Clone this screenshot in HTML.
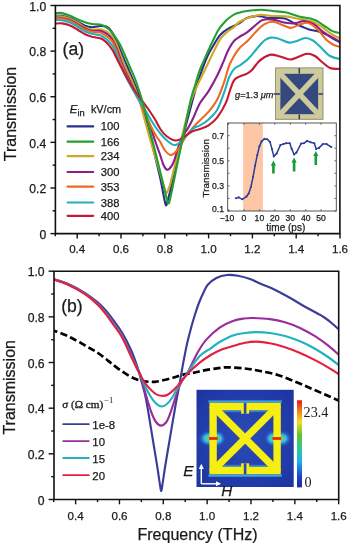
<!DOCTYPE html><html><head><meta charset="utf-8"><style>
html,body{margin:0;padding:0;background:#fff;width:350px;height:545px;overflow:hidden}
svg{display:block;filter:blur(0.3px)}
text{font-family:"Liberation Sans",sans-serif;fill:#1a1a1a;stroke:#1a1a1a;stroke-width:0.25px}
.ser{font-family:"Liberation Serif",serif;stroke:none}
</style></head><body>
<svg width="350" height="545" viewBox="0 0 350 545">
<defs>
<clipPath id="ca"><rect x="55.4" y="5.5" width="284.5" height="228.1"/></clipPath>
<clipPath id="cb"><rect x="54.0" y="271.2" width="284.7" height="228.3"/></clipPath>
<linearGradient id="jet" x1="0" y1="1" x2="0" y2="0"><stop offset="0" stop-color="#1c2f9a"/><stop offset="0.12" stop-color="#2040c8"/><stop offset="0.3" stop-color="#20b0f0"/><stop offset="0.45" stop-color="#30c890"/><stop offset="0.6" stop-color="#60c030"/><stop offset="0.75" stop-color="#f0e020"/><stop offset="0.88" stop-color="#f08020"/><stop offset="1" stop-color="#e01818"/></linearGradient>
<radialGradient id="glow"><stop offset="0" stop-color="#d0e840"/><stop offset="0.18" stop-color="#50d080"/><stop offset="0.42" stop-color="#38c0f0"/><stop offset="0.75" stop-color="#2a70d0" stop-opacity="0.5"/><stop offset="1" stop-color="#2a48b2" stop-opacity="0"/></radialGradient>
<radialGradient id="bgG" cx="0.5" cy="0.5" r="0.7"><stop offset="0" stop-color="#2a4cb8"/><stop offset="1" stop-color="#1d34a0"/></radialGradient>
</defs>
<g clip-path="url(#ca)" fill="none" stroke-width="2.1" stroke-linejoin="round" stroke-linecap="round">
<path d="M55.5,15.5 C56.6,15.6 59.6,15.4 62.0,15.8 C64.4,16.2 67.3,17.0 70.0,18.0 C72.7,19.0 75.5,20.7 78.0,22.0 C80.5,23.3 82.7,24.8 85.0,25.7 C87.3,26.6 89.5,27.1 92.0,27.2 C94.5,27.2 98.0,26.2 100.0,26.0 C102.0,25.8 102.8,26.0 104.0,26.2 C105.2,26.4 106.0,26.4 107.0,27.0 C108.0,27.6 109.0,28.3 110.0,29.5 C111.0,30.7 112.0,32.2 113.0,34.0 C114.0,35.8 115.0,37.8 116.0,40.0 C117.0,42.2 118.2,45.0 119.0,47.0 C119.8,49.0 119.7,48.8 121.0,52.0 C122.3,55.2 125.0,61.3 127.0,66.0 C129.0,70.7 131.0,75.2 133.0,80.0 C135.0,84.8 137.2,90.3 138.8,95.0 C140.4,99.7 141.2,103.5 142.5,108.0 C143.8,112.5 145.3,118.3 146.3,122.0 C147.3,125.7 147.3,125.3 148.5,130.0 C149.7,134.7 151.6,142.2 153.5,150.0 C155.4,157.8 158.2,168.8 160.0,177.0 C161.8,185.2 163.3,194.2 164.3,199.0 C165.3,203.8 165.4,205.3 166.0,205.5 C166.6,205.7 167.1,202.6 167.8,200.0 C168.6,197.4 169.1,195.5 170.5,190.0 C171.9,184.5 174.1,175.2 176.0,167.0 C177.9,158.8 179.7,150.5 182.0,141.0 C184.3,131.5 187.7,118.8 190.0,110.0 C192.3,101.2 194.0,94.7 196.0,88.0 C198.0,81.3 200.1,75.2 202.1,69.7 C204.1,64.2 206.1,59.1 208.0,55.0 C209.9,50.9 212.0,47.9 213.7,45.0 C215.4,42.1 216.5,39.9 218.0,37.8 C219.5,35.7 221.0,34.0 222.9,32.4 C224.8,30.8 227.7,29.0 229.7,27.9 C231.7,26.8 233.2,26.4 235.0,25.5 C236.8,24.6 238.3,23.8 240.3,22.5 C242.3,21.2 244.5,19.0 247.1,17.9 C249.7,16.8 253.2,16.3 255.7,16.1 C258.2,15.9 259.9,16.2 262.0,16.5 C264.1,16.8 265.7,17.8 268.0,18.0 C270.3,18.2 273.2,17.9 276.0,18.0 C278.8,18.1 282.2,17.7 285.0,18.5 C287.8,19.3 290.3,21.3 293.0,22.6 C295.7,23.9 298.3,25.1 301.0,26.2 C303.7,27.3 306.1,28.6 309.0,29.5 C311.9,30.4 315.7,30.5 318.6,31.4 C321.5,32.2 324.2,33.4 326.6,34.6 C329.0,35.8 330.8,37.2 333.0,38.5 C335.2,39.8 338.8,41.8 339.9,42.5" stroke="#2b2f8c"/>
<path d="M55.5,16.2 C56.6,16.3 59.6,16.2 62.0,16.6 C64.4,17.0 67.3,17.7 70.0,18.8 C72.7,19.9 75.5,21.6 78.0,23.0 C80.5,24.4 82.7,26.3 85.0,27.4 C87.3,28.5 89.5,29.2 92.0,29.5 C94.5,29.8 98.0,29.2 100.0,29.4 C102.0,29.6 102.7,30.0 104.0,30.5 C105.3,31.0 106.7,31.5 108.0,32.5 C109.3,33.5 110.7,34.8 112.0,36.5 C113.3,38.2 114.8,40.4 116.0,43.0 C117.2,45.6 118.0,48.2 119.5,52.0 C121.0,55.8 123.0,61.3 125.0,66.0 C127.0,70.7 129.4,75.2 131.5,80.0 C133.6,84.8 135.8,90.3 137.5,95.0 C139.2,99.7 140.2,103.5 141.5,108.0 C142.8,112.5 144.3,118.3 145.3,122.0 C146.3,125.7 146.2,125.3 147.5,130.0 C148.8,134.7 151.1,142.9 153.2,150.0 C155.3,157.1 158.2,166.2 160.0,172.5 C161.8,178.8 163.2,184.6 164.3,188.0 C165.4,191.4 165.7,193.0 166.4,193.2 C167.1,193.4 167.8,190.6 168.4,189.0 C169.1,187.4 169.4,187.2 170.3,183.8 C171.2,180.4 172.9,173.2 174.1,168.5 C175.3,163.8 176.2,159.9 177.3,155.6 C178.4,151.3 179.5,147.1 180.5,142.8 C181.5,138.5 181.7,137.1 183.5,130.0 C185.3,122.9 189.0,107.7 191.4,100.0 C193.8,92.3 195.7,89.0 198.0,84.0 C200.3,79.0 202.8,74.2 205.0,69.7 C207.2,65.2 209.0,61.1 211.0,57.0 C213.0,52.9 215.6,47.9 217.1,45.0 C218.6,42.1 218.5,41.5 220.0,39.5 C221.5,37.5 223.6,35.1 226.0,33.0 C228.4,30.9 232.0,28.6 234.3,26.7 C236.6,24.8 237.3,23.1 240.0,21.5 C242.7,19.9 247.1,18.1 250.6,17.0 C254.1,15.9 257.2,15.1 260.9,14.9 C264.6,14.7 268.9,15.8 272.9,16.0 C276.9,16.2 282.1,16.0 285.0,16.2 C287.9,16.4 287.3,16.5 290.0,17.0 C292.7,17.5 297.6,18.7 301.0,19.4 C304.4,20.1 307.4,19.9 310.6,21.0 C313.8,22.1 317.5,24.2 320.2,25.8 C322.9,27.4 324.5,29.1 326.6,30.6 C328.7,32.1 330.8,33.7 333.0,35.0 C335.2,36.3 338.8,37.7 339.9,38.2" stroke="#cfa825"/>
<path d="M55.5,17.5 C56.6,17.6 59.6,17.6 62.0,18.0 C64.4,18.4 67.3,18.9 70.0,20.0 C72.7,21.1 75.5,23.1 78.0,24.5 C80.5,25.9 82.7,27.4 85.0,28.5 C87.3,29.6 89.5,30.4 92.0,30.8 C94.5,31.2 98.0,30.6 100.0,30.9 C102.0,31.1 102.7,31.6 104.0,32.3 C105.3,32.9 106.7,33.7 108.0,34.8 C109.3,35.9 110.8,37.3 112.0,39.0 C113.2,40.7 114.0,42.8 115.0,45.0 C116.0,47.2 116.7,48.5 118.0,52.0 C119.3,55.5 121.1,61.3 123.0,66.0 C124.9,70.7 127.2,75.2 129.5,80.0 C131.8,84.8 134.2,90.3 136.5,95.0 C138.8,99.7 141.0,103.5 143.0,108.0 C145.0,112.5 147.1,118.3 148.5,122.0 C149.9,125.7 150.3,126.7 151.5,130.0 C152.7,133.3 154.1,137.9 155.5,142.0 C156.9,146.1 158.7,150.7 160.0,154.5 C161.3,158.3 162.3,162.4 163.5,165.0 C164.7,167.6 165.9,169.4 167.1,169.8 C168.3,170.2 169.3,169.0 170.5,167.5 C171.7,166.0 172.9,164.1 174.1,160.8 C175.3,157.6 176.8,151.5 177.9,148.0 C179.1,144.5 179.9,142.4 181.0,140.0 C182.1,137.6 183.2,135.7 184.5,133.5 C185.8,131.3 187.3,129.5 188.7,127.0 C190.1,124.5 191.1,122.5 193.0,118.5 C194.9,114.5 197.4,107.7 200.0,103.1 C202.6,98.5 205.8,95.7 208.6,91.1 C211.4,86.5 214.5,80.8 217.1,75.7 C219.7,70.6 222.1,64.6 224.0,60.3 C225.9,56.0 226.6,53.2 228.3,50.0 C230.0,46.8 232.1,43.2 234.0,41.0 C235.9,38.8 237.8,37.9 240.0,36.5 C242.2,35.1 244.4,34.3 247.0,32.4 C249.6,30.5 253.1,27.1 255.7,25.0 C258.3,22.9 259.7,20.9 262.6,20.0 C265.5,19.1 269.2,19.2 272.9,19.6 C276.6,20.0 281.4,22.0 285.0,22.6 C288.6,23.2 291.4,23.7 294.6,23.4 C297.8,23.1 301.0,20.9 304.2,21.0 C307.4,21.1 310.6,22.3 313.8,24.2 C317.0,26.1 320.4,30.0 323.4,32.2 C326.4,34.4 329.2,36.0 332.0,37.5 C334.8,39.0 338.6,40.8 339.9,41.5" stroke="#8c1f8e"/>
<path d="M55.5,18.0 C56.6,18.1 59.6,18.0 62.0,18.5 C64.4,19.0 67.3,19.6 70.0,20.8 C72.7,22.0 75.5,24.1 78.0,25.5 C80.5,26.9 82.7,28.5 85.0,29.5 C87.3,30.5 89.5,31.2 92.0,31.7 C94.5,32.2 98.0,32.0 100.0,32.5 C102.0,33.0 102.7,34.0 104.0,34.8 C105.3,35.6 106.7,36.1 108.0,37.2 C109.3,38.3 110.9,39.7 112.0,41.2 C113.1,42.7 113.7,44.2 114.5,46.0 C115.3,47.8 115.8,48.7 117.0,52.0 C118.2,55.3 120.1,61.3 122.0,66.0 C123.9,70.7 126.2,75.2 128.5,80.0 C130.8,84.8 133.6,90.3 136.0,95.0 C138.4,99.7 140.8,103.5 143.0,108.0 C145.2,112.5 147.4,118.3 149.0,122.0 C150.6,125.7 151.6,127.6 152.8,130.0 C154.1,132.4 155.3,134.6 156.5,136.5 C157.7,138.4 158.6,139.2 160.0,141.5 C161.4,143.8 163.3,148.2 165.0,150.5 C166.7,152.8 168.8,154.5 170.3,155.0 C171.8,155.5 172.7,154.5 174.0,153.5 C175.3,152.5 176.6,150.9 177.9,149.2 C179.2,147.4 180.5,145.4 182.0,143.0 C183.5,140.6 185.1,137.7 187.0,135.0 C188.9,132.3 191.1,129.5 193.3,127.1 C195.5,124.6 197.4,122.9 200.0,120.3 C202.6,117.7 205.8,115.1 208.6,111.7 C211.4,108.3 214.5,104.6 217.1,99.7 C219.7,94.8 222.0,88.2 224.0,82.6 C226.0,77.0 227.3,70.4 229.0,66.0 C230.7,61.6 232.2,59.1 234.0,56.0 C235.8,52.9 237.7,50.1 240.0,47.5 C242.3,44.9 245.4,43.1 248.0,40.5 C250.6,37.9 252.9,34.7 255.7,32.0 C258.4,29.3 261.6,25.9 264.5,24.2 C267.4,22.5 269.6,21.5 273.0,21.8 C276.4,22.1 281.9,25.0 285.0,26.0 C288.1,27.0 288.7,28.1 291.4,27.8 C294.1,27.5 298.4,24.8 301.0,24.0 C303.6,23.2 305.0,22.6 307.0,22.8 C309.0,23.1 311.1,24.2 313.0,25.5 C314.9,26.8 316.3,28.2 318.6,30.6 C320.9,33.0 324.2,37.7 326.6,40.0 C329.0,42.3 330.8,43.3 333.0,44.5 C335.2,45.7 338.8,46.6 339.9,47.0" stroke="#ec6a22"/>
<path d="M55.5,20.0 C56.6,20.1 59.6,19.9 62.0,20.3 C64.4,20.7 67.3,21.4 70.0,22.5 C72.7,23.6 75.5,25.5 78.0,27.0 C80.5,28.5 82.7,30.3 85.0,31.4 C87.3,32.5 89.5,33.1 92.0,33.8 C94.5,34.4 98.0,34.7 100.0,35.3 C102.0,35.9 102.7,36.8 104.0,37.6 C105.3,38.5 106.7,39.1 108.0,40.4 C109.3,41.7 110.8,43.3 112.0,45.2 C113.2,47.1 114.0,48.5 115.5,52.0 C117.0,55.5 119.0,61.3 121.0,66.0 C123.0,70.7 125.0,75.2 127.5,80.0 C130.0,84.8 133.2,90.3 136.0,95.0 C138.8,99.7 141.5,103.8 144.0,108.0 C146.5,112.2 148.9,116.6 151.0,120.0 C153.1,123.4 154.7,125.9 156.5,128.5 C158.3,131.1 160.2,133.4 162.0,135.5 C163.8,137.6 165.5,139.4 167.5,141.0 C169.5,142.6 172.3,144.6 174.1,145.0 C175.9,145.4 177.0,144.5 178.5,143.5 C180.0,142.5 181.4,140.6 183.0,139.0 C184.6,137.4 186.3,135.8 188.0,134.0 C189.7,132.2 191.3,129.7 193.3,128.3 C195.3,126.9 197.4,126.9 200.0,125.4 C202.6,123.9 205.8,122.0 208.6,119.4 C211.4,116.8 214.5,114.4 217.1,110.0 C219.7,105.6 222.0,98.3 224.0,92.9 C226.0,87.5 227.4,81.4 229.1,77.4 C230.8,73.4 232.3,71.0 234.3,68.9 C236.3,66.8 238.8,66.2 241.1,64.6 C243.4,62.9 245.7,61.3 248.0,59.0 C250.3,56.7 253.0,53.3 255.0,51.0 C257.0,48.7 258.3,46.8 260.0,45.0 C261.7,43.2 263.2,41.2 265.0,40.0 C266.8,38.8 268.8,37.9 271.0,37.6 C273.2,37.4 275.0,37.7 278.0,38.5 C281.0,39.3 285.8,42.2 289.0,42.6 C292.2,43.0 294.3,41.8 297.0,41.0 C299.7,40.2 302.3,38.1 305.0,38.0 C307.7,37.9 310.5,39.1 313.0,40.5 C315.5,41.9 317.2,43.9 320.0,46.5 C322.8,49.1 326.7,53.9 330.0,56.0 C333.3,58.1 338.2,58.5 339.9,59.0" stroke="#1fb0c0"/>
<path d="M55.5,23.5 C56.6,23.5 59.6,23.1 62.0,23.4 C64.4,23.7 67.3,24.4 70.0,25.5 C72.7,26.6 75.5,28.5 78.0,30.0 C80.5,31.5 82.7,33.2 85.0,34.3 C87.3,35.4 89.5,36.1 92.0,36.8 C94.5,37.4 98.0,37.6 100.0,38.2 C102.0,38.8 102.7,39.4 104.0,40.4 C105.3,41.4 106.8,42.7 108.0,44.0 C109.2,45.3 110.1,46.7 111.0,48.0 C111.9,49.3 112.2,49.3 113.6,52.0 C115.0,54.7 117.3,59.8 119.5,64.0 C121.7,68.2 124.2,73.0 126.5,77.0 C128.8,81.0 130.8,84.5 133.0,88.0 C135.2,91.5 137.6,94.7 140.0,98.0 C142.4,101.3 145.1,104.6 147.5,108.0 C149.9,111.4 152.2,114.8 154.5,118.5 C156.8,122.2 158.9,127.0 161.0,130.0 C163.1,133.0 164.8,134.8 167.0,136.5 C169.2,138.2 171.9,139.8 174.1,140.3 C176.3,140.8 178.0,140.3 180.0,139.5 C182.0,138.7 184.0,136.8 186.0,135.5 C188.0,134.2 189.7,132.6 192.0,131.5 C194.3,130.4 197.2,129.9 200.0,128.9 C202.8,127.9 205.8,127.3 208.6,125.4 C211.4,123.5 214.2,121.4 217.1,117.7 C219.9,114.0 223.4,108.1 225.7,103.1 C228.0,98.1 229.5,91.5 230.9,87.7 C232.3,83.9 232.9,81.8 234.3,80.0 C235.7,78.2 237.4,77.6 239.4,76.6 C241.4,75.6 244.3,75.0 246.3,74.0 C248.3,73.0 249.4,72.6 251.4,70.6 C253.4,68.6 256.2,64.2 258.3,62.0 C260.4,59.8 261.9,58.7 264.0,57.5 C266.1,56.3 268.3,54.8 271.0,54.6 C273.7,54.4 276.8,55.7 280.0,56.5 C283.2,57.3 287.0,59.4 290.0,59.5 C293.0,59.6 295.2,58.0 298.0,57.0 C300.8,56.0 304.2,53.9 307.0,53.7 C309.8,53.5 312.5,54.6 315.0,56.0 C317.5,57.4 319.5,60.0 322.0,62.0 C324.5,64.0 327.0,66.8 330.0,68.0 C333.0,69.2 338.2,68.8 339.9,69.0" stroke="#c41a32"/>
<path d="M55.5,13.1 C56.6,13.1 59.6,12.6 62.0,13.1 C64.4,13.6 67.3,14.7 70.0,15.8 C72.7,16.9 75.5,18.4 78.0,19.5 C80.5,20.6 82.7,21.6 85.0,22.3 C87.3,23.1 89.5,23.6 92.0,24.0 C94.5,24.4 98.0,24.2 100.0,24.5 C102.0,24.8 102.7,25.3 104.0,26.0 C105.3,26.7 106.7,27.4 108.0,28.5 C109.3,29.6 110.7,30.9 112.0,32.5 C113.3,34.1 114.7,36.0 116.0,38.0 C117.3,40.0 118.8,42.2 120.0,44.5 C121.2,46.8 121.9,48.4 123.5,52.0 C125.1,55.6 127.5,61.3 129.5,66.0 C131.5,70.7 133.7,75.2 135.5,80.0 C137.3,84.8 139.0,90.3 140.5,95.0 C142.0,99.7 143.1,103.5 144.3,108.0 C145.5,112.5 146.9,118.3 147.8,122.0 C148.7,125.7 148.6,125.3 149.8,130.0 C151.0,134.7 152.9,142.5 154.8,150.0 C156.7,157.5 159.1,167.2 161.0,175.0 C162.9,182.8 165.1,192.3 166.3,197.0 C167.5,201.7 167.6,203.0 168.3,203.2 C169.0,203.4 168.9,204.2 170.3,198.0 C171.7,191.8 174.6,177.3 176.9,166.0 C179.2,154.7 182.1,141.0 184.4,130.0 C186.7,119.0 188.9,107.5 190.7,100.0 C192.5,92.5 193.7,90.0 195.2,85.0 C196.7,80.0 198.2,74.3 199.9,69.7 C201.6,65.1 203.4,61.6 205.2,57.6 C207.0,53.6 209.0,48.9 210.6,45.5 C212.2,42.1 213.3,40.0 214.5,37.5 C215.7,35.0 216.6,32.8 218.0,30.5 C219.4,28.2 221.2,25.9 222.9,24.0 C224.6,22.1 226.1,20.4 228.0,18.8 C229.9,17.2 232.3,15.4 234.3,14.3 C236.3,13.2 237.9,13.0 240.0,12.4 C242.1,11.8 243.6,11.4 247.1,11.0 C250.6,10.6 256.6,9.8 260.9,9.8 C265.2,9.8 268.9,10.6 272.9,11.0 C276.9,11.4 281.6,11.6 285.0,12.2 C288.4,12.8 290.3,13.7 293.0,14.5 C295.7,15.3 298.1,16.3 301.0,17.0 C303.9,17.7 307.9,17.9 310.6,18.6 C313.3,19.3 314.3,19.5 317.0,21.0 C319.7,22.5 323.9,25.7 326.6,27.4 C329.3,29.1 330.8,30.5 333.0,31.4 C335.2,32.3 338.8,32.7 339.9,33.0" stroke="#22a030"/>
</g>
<g stroke="#111" fill="none">
<path d="M55.4,5.5 H339.9 V233.6 H55.4 Z" stroke-width="1.6"/>
<line x1="50.4" y1="233.60" x2="55.4" y2="233.60" stroke-width="1.4"/>
<line x1="52.6" y1="210.79" x2="55.4" y2="210.79" stroke-width="1.4"/>
<line x1="50.4" y1="187.98" x2="55.4" y2="187.98" stroke-width="1.4"/>
<line x1="52.6" y1="165.17" x2="55.4" y2="165.17" stroke-width="1.4"/>
<line x1="50.4" y1="142.36" x2="55.4" y2="142.36" stroke-width="1.4"/>
<line x1="52.6" y1="119.55" x2="55.4" y2="119.55" stroke-width="1.4"/>
<line x1="50.4" y1="96.74" x2="55.4" y2="96.74" stroke-width="1.4"/>
<line x1="52.6" y1="73.93" x2="55.4" y2="73.93" stroke-width="1.4"/>
<line x1="50.4" y1="51.12" x2="55.4" y2="51.12" stroke-width="1.4"/>
<line x1="52.6" y1="28.31" x2="55.4" y2="28.31" stroke-width="1.4"/>
<line x1="50.4" y1="5.50" x2="55.4" y2="5.50" stroke-width="1.4"/>
<line x1="55.30" y1="233.6" x2="55.30" y2="236.2" stroke-width="1.4"/>
<line x1="77.20" y1="233.6" x2="77.20" y2="238.4" stroke-width="1.4"/>
<line x1="99.10" y1="233.6" x2="99.10" y2="236.2" stroke-width="1.4"/>
<line x1="121.00" y1="233.6" x2="121.00" y2="238.4" stroke-width="1.4"/>
<line x1="142.90" y1="233.6" x2="142.90" y2="236.2" stroke-width="1.4"/>
<line x1="164.80" y1="233.6" x2="164.80" y2="238.4" stroke-width="1.4"/>
<line x1="186.70" y1="233.6" x2="186.70" y2="236.2" stroke-width="1.4"/>
<line x1="208.60" y1="233.6" x2="208.60" y2="238.4" stroke-width="1.4"/>
<line x1="230.50" y1="233.6" x2="230.50" y2="236.2" stroke-width="1.4"/>
<line x1="252.40" y1="233.6" x2="252.40" y2="238.4" stroke-width="1.4"/>
<line x1="274.30" y1="233.6" x2="274.30" y2="236.2" stroke-width="1.4"/>
<line x1="296.20" y1="233.6" x2="296.20" y2="238.4" stroke-width="1.4"/>
<line x1="318.10" y1="233.6" x2="318.10" y2="236.2" stroke-width="1.4"/>
<line x1="340.00" y1="233.6" x2="340.00" y2="238.4" stroke-width="1.4"/>
</g>
<g font-size="12.2" text-anchor="end">
<text x="46.3" y="238.8">0</text>
<text x="46.3" y="193.2">0.2</text>
<text x="46.3" y="147.6">0.4</text>
<text x="46.3" y="101.9">0.6</text>
<text x="46.3" y="56.3">0.8</text>
<text x="46.3" y="10.7">1.0</text>
</g>
<g font-size="11.6" text-anchor="middle">
<text x="77.2" y="253.4">0.4</text>
<text x="121.0" y="253.4">0.6</text>
<text x="164.8" y="253.4">0.8</text>
<text x="208.6" y="253.4">1.0</text>
<text x="252.4" y="253.4">1.2</text>
<text x="296.2" y="253.4">1.4</text>
<text x="340.0" y="253.4">1.6</text>
</g>
<text transform="translate(16,114) rotate(-90)" font-size="16" text-anchor="middle">Transmission</text>
<text x="62.6" y="54.8" font-size="17.6">(a)</text>
<text x="69.8" y="113.2" font-size="10.9"><tspan font-style="italic" font-size="11.4">E</tspan><tspan font-size="9.4" dy="2.8">in</tspan><tspan dy="-2.8" dx="6.2">kV/cm</tspan></text>
<g stroke-width="2.2" stroke-linecap="round">
<line x1="67.6" y1="126.4" x2="93.2" y2="126.4" stroke="#2b2f8c"/>
<line x1="67.6" y1="141.7" x2="93.2" y2="141.7" stroke="#22a030"/>
<line x1="67.6" y1="156.2" x2="93.2" y2="156.2" stroke="#cfa825"/>
<line x1="67.6" y1="172.0" x2="93.2" y2="172.0" stroke="#8c1f8e"/>
<line x1="67.6" y1="186.7" x2="93.2" y2="186.7" stroke="#ec6a22"/>
<line x1="67.6" y1="202.5" x2="93.2" y2="202.5" stroke="#1fb0c0"/>
<line x1="67.6" y1="215.8" x2="93.2" y2="215.8" stroke="#c41a32"/>
</g>
<g font-size="11.2">
<text x="100.7" y="130.4">100</text>
<text x="100.7" y="145.7">166</text>
<text x="100.7" y="160.2">234</text>
<text x="100.7" y="176.0">300</text>
<text x="100.7" y="190.7">353</text>
<text x="100.7" y="206.5">388</text>
<text x="100.7" y="219.8">400</text>
</g>
<g>
<rect x="275.5" y="68" width="47.4" height="51.2" fill="#cdcb9c" stroke="#9a9a78" stroke-width="0.8"/>
<rect x="280.2" y="73.6" width="38.2" height="40.8" fill="#36497f"/>
<g stroke="#cdcb9c" stroke-width="5.4" stroke-linecap="butt"><line x1="278.2" y1="71.6" x2="320.4" y2="116.4"/><line x1="320.4" y1="71.6" x2="278.2" y2="116.4"/></g>
<rect x="280.2" y="73.6" width="38.2" height="40.8" fill="none" stroke="#cdcb9c" stroke-width="0.01"/>
<path d="M275.5,68 H322.9 V119.2 H275.5 Z M280.2,73.6 V114.4 H318.4 V73.6 Z" fill="#cdcb9c" fill-rule="evenodd"/>
<rect x="275.5" y="68" width="47.4" height="51.2" fill="none" stroke="#8f8f70" stroke-width="0.8"/>
<g stroke="#2a3a6a" stroke-width="1.5">
<line x1="299.3" y1="68" x2="299.3" y2="73.6"/>
<line x1="299.3" y1="114.4" x2="299.3" y2="119.2"/>
<line x1="273.6" y1="94.0" x2="280.2" y2="94.0"/>
<line x1="318.4" y1="94.0" x2="322.9" y2="94.0"/>
</g>
</g>
<text x="235" y="98.4" font-size="9.2" fill="#222"><tspan font-style="italic">g</tspan>=1.3 <tspan font-style="italic">μm</tspan></text>
<rect x="227.7" y="123.0" width="108.6" height="88.0" fill="#fff"/>
<rect x="243.1" y="123.0" width="19.8" height="88.0" fill="#fdc7a6"/>
<rect x="227.7" y="123.0" width="108.6" height="88.0" fill="none" stroke="#444" stroke-width="0.9"/>
<g stroke="#444" stroke-width="0.8">
<line x1="227.7" y1="211.0" x2="229.5" y2="211.0"/>
<line x1="336.3" y1="211.0" x2="334.5" y2="211.0"/>
<line x1="227.7" y1="198.4" x2="229.5" y2="198.4"/>
<line x1="336.3" y1="198.4" x2="334.5" y2="198.4"/>
<line x1="227.7" y1="185.9" x2="229.5" y2="185.9"/>
<line x1="336.3" y1="185.9" x2="334.5" y2="185.9"/>
<line x1="227.7" y1="173.3" x2="229.5" y2="173.3"/>
<line x1="336.3" y1="173.3" x2="334.5" y2="173.3"/>
<line x1="227.7" y1="160.8" x2="229.5" y2="160.8"/>
<line x1="336.3" y1="160.8" x2="334.5" y2="160.8"/>
<line x1="227.7" y1="148.2" x2="229.5" y2="148.2"/>
<line x1="336.3" y1="148.2" x2="334.5" y2="148.2"/>
<line x1="227.7" y1="135.7" x2="229.5" y2="135.7"/>
<line x1="336.3" y1="135.7" x2="334.5" y2="135.7"/>
<line x1="228.6" y1="211.0" x2="228.6" y2="209.2"/>
<line x1="228.6" y1="123.0" x2="228.6" y2="124.8"/>
<line x1="244.0" y1="211.0" x2="244.0" y2="209.2"/>
<line x1="244.0" y1="123.0" x2="244.0" y2="124.8"/>
<line x1="259.4" y1="211.0" x2="259.4" y2="209.2"/>
<line x1="259.4" y1="123.0" x2="259.4" y2="124.8"/>
<line x1="274.8" y1="211.0" x2="274.8" y2="209.2"/>
<line x1="274.8" y1="123.0" x2="274.8" y2="124.8"/>
<line x1="290.3" y1="211.0" x2="290.3" y2="209.2"/>
<line x1="290.3" y1="123.0" x2="290.3" y2="124.8"/>
<line x1="305.7" y1="211.0" x2="305.7" y2="209.2"/>
<line x1="305.7" y1="123.0" x2="305.7" y2="124.8"/>
<line x1="321.1" y1="211.0" x2="321.1" y2="209.2"/>
<line x1="321.1" y1="123.0" x2="321.1" y2="124.8"/>
</g>
<g font-size="8.6" text-anchor="end">
<text x="224" y="138.7">0.7</text>
<text x="224" y="163.8">0.5</text>
<text x="224" y="188.9">0.3</text>
<text x="224" y="211.8">0.1</text>
</g>
<g font-size="8.6" text-anchor="middle">
<text x="227.1" y="220.8">−10</text>
<text x="244.0" y="220.8">0</text>
<text x="259.4" y="220.8">10</text>
<text x="274.8" y="220.8">20</text>
<text x="290.3" y="220.8">30</text>
<text x="305.7" y="220.8">40</text>
<text x="321.1" y="220.8">50</text>
</g>
<text x="285.8" y="231" font-size="10" text-anchor="middle">time (ps)</text>
<text transform="translate(209,168.3) rotate(-90)" font-size="9.9" text-anchor="middle">Transmission</text>
<path d="M235.9,198.3 L238.7,197.4 L242.3,199.3 L246.6,196.4 L248.7,193.5 L250.9,187.0 L253.0,177.1 L255.1,165.7 L257.3,155.0 L259.4,146.4 L261.6,141.4 L264.4,138.9 L267.3,139.3 L270.1,142.1 L271.9,148.9 L273.8,156.4 L276.6,153.6 L280.4,145.1 L283.2,144.1 L286.0,143.2 L289.8,143.2 L291.7,148.9 L294.1,154.5 L296.4,152.6 L301.1,143.6 L303.9,143.2 L307.1,140.9 L310.5,142.3 L314.3,143.2 L316.2,148.9 L319.0,147.9 L322.8,144.1 L326.6,144.1 L331.3,147.0" fill="none" stroke="#2e3d9c" stroke-width="1.5" stroke-linejoin="round"/>
<g fill="#2e3d9c"><circle cx="235.9" cy="198.3" r="1.05"/><circle cx="238.7" cy="197.4" r="1.05"/><circle cx="242.3" cy="199.3" r="1.05"/><circle cx="246.6" cy="196.4" r="1.05"/><circle cx="248.7" cy="193.5" r="1.05"/><circle cx="250.9" cy="187.0" r="1.05"/><circle cx="253.0" cy="177.1" r="1.05"/><circle cx="255.1" cy="165.7" r="1.05"/><circle cx="257.3" cy="155.0" r="1.05"/><circle cx="259.4" cy="146.4" r="1.05"/><circle cx="261.6" cy="141.4" r="1.05"/><circle cx="264.4" cy="138.9" r="1.05"/><circle cx="267.3" cy="139.3" r="1.05"/><circle cx="270.1" cy="142.1" r="1.05"/><circle cx="271.9" cy="148.9" r="1.05"/><circle cx="273.8" cy="156.4" r="1.05"/><circle cx="276.6" cy="153.6" r="1.05"/><circle cx="280.4" cy="145.1" r="1.05"/><circle cx="283.2" cy="144.1" r="1.05"/><circle cx="286.0" cy="143.2" r="1.05"/><circle cx="289.8" cy="143.2" r="1.05"/><circle cx="291.7" cy="148.9" r="1.05"/><circle cx="294.1" cy="154.5" r="1.05"/><circle cx="296.4" cy="152.6" r="1.05"/><circle cx="301.1" cy="143.6" r="1.05"/><circle cx="303.9" cy="143.2" r="1.05"/><circle cx="307.1" cy="140.9" r="1.05"/><circle cx="310.5" cy="142.3" r="1.05"/><circle cx="314.3" cy="143.2" r="1.05"/><circle cx="316.2" cy="148.9" r="1.05"/><circle cx="319.0" cy="147.9" r="1.05"/><circle cx="322.8" cy="144.1" r="1.05"/><circle cx="326.6" cy="144.1" r="1.05"/><circle cx="331.3" cy="147.0" r="1.05"/></g>
<g fill="#1a9a3a" stroke="none">
<path d="M273.4,160.6 L276.0,165.8 L274.7,165.8 L274.7,173.4 L272.1,173.4 L272.1,165.8 L270.8,165.8 Z"/>
<path d="M294.1,157.4 L296.7,162.6 L295.4,162.6 L295.4,171.6 L292.8,171.6 L292.8,162.6 L291.5,162.6 Z"/>
<path d="M315.8,150.9 L318.4,156.1 L317.1,156.1 L317.1,164.9 L314.5,164.9 L314.5,156.1 L313.2,156.1 Z"/>
</g>
<g clip-path="url(#cb)" fill="none" stroke-linejoin="round" stroke-linecap="round">
<path d="M54.0,330.8 C55.1,331.1 58.1,332.0 60.4,332.9 C62.7,333.8 65.4,335.1 67.6,336.1 C69.8,337.1 71.4,337.9 73.5,339.0 C75.6,340.1 77.9,341.2 80.0,342.4 C82.1,343.6 84.3,345.0 86.0,346.0 C87.7,347.0 88.4,347.3 90.0,348.2 C91.6,349.1 93.8,350.4 95.5,351.5 C97.2,352.6 98.2,353.2 100.0,354.5 C101.8,355.8 104.0,357.4 106.0,359.0 C108.0,360.6 109.8,362.2 112.1,364.0 C114.4,365.8 117.1,368.0 120.0,370.0 C122.9,372.0 126.5,374.4 129.3,376.0 C132.1,377.6 134.7,378.7 137.0,379.5 C139.3,380.3 141.0,380.6 143.0,381.0 C145.0,381.4 147.0,381.7 149.0,381.8 C151.0,381.9 152.9,382.0 155.0,381.8 C157.1,381.6 158.6,381.3 161.6,380.6 C164.6,379.9 169.5,378.8 172.9,377.8 C176.3,376.9 178.4,375.8 182.1,374.9 C185.8,374.0 191.3,373.2 195.0,372.5 C198.7,371.8 199.9,371.2 204.1,370.4 C208.3,369.6 216.0,368.4 220.0,367.9 C224.0,367.4 223.8,367.2 228.0,367.3 C232.2,367.4 239.7,367.9 245.0,368.5 C250.3,369.1 254.5,369.9 260.0,371.0 C265.5,372.1 272.0,373.2 277.8,375.0 C283.6,376.8 289.6,379.3 295.0,381.5 C300.4,383.7 305.0,385.8 310.0,388.0 C315.0,390.2 320.2,392.4 325.0,394.5 C329.8,396.6 336.4,399.5 338.7,400.5" stroke="#000" stroke-width="2.7" stroke-dasharray="7.2 3.3" stroke-dashoffset="3.7" stroke-linecap="butt"/>
<path d="M54.0,279.3 C56.2,280.0 62.0,281.4 67.1,283.6 C72.1,285.8 79.1,289.5 84.3,292.6 C89.5,295.8 94.3,299.4 98.0,302.5 C101.7,305.6 103.9,308.4 106.6,311.5 C109.3,314.6 111.4,317.5 114.0,321.0 C116.6,324.5 119.2,327.8 122.0,332.5 C124.8,337.2 128.2,343.6 130.8,349.4 C133.4,355.1 135.6,361.5 137.4,367.0 C139.2,372.5 140.3,376.9 141.8,382.4 C143.3,387.9 144.3,390.4 146.2,400.0 C148.0,409.6 151.1,429.2 152.9,440.0 C154.7,450.8 155.8,457.5 157.0,465.0 C158.2,472.5 159.3,480.7 160.0,485.0 C160.7,489.3 160.8,491.0 161.2,491.0 C161.6,491.0 161.7,489.3 162.4,485.0 C163.1,480.7 164.2,472.5 165.4,465.0 C166.6,457.5 168.3,447.5 169.6,440.0 C170.9,432.5 171.8,426.7 173.0,420.0 C174.2,413.3 175.3,406.3 176.5,400.0 C177.7,393.7 178.9,387.3 179.9,382.0 C180.9,376.7 181.2,374.0 182.3,368.0 C183.4,362.0 185.1,352.8 186.5,346.2 C187.9,339.6 189.5,333.8 190.9,328.5 C192.3,323.2 193.6,318.9 195.0,314.5 C196.4,310.1 197.8,305.8 199.3,302.0 C200.8,298.2 202.6,294.4 204.0,291.5 C205.4,288.6 205.9,286.8 208.0,284.5 C210.1,282.2 213.2,279.6 216.4,278.0 C219.6,276.4 223.4,275.4 227.0,275.0 C230.6,274.6 234.2,275.1 238.0,275.8 C241.8,276.5 246.3,277.7 250.0,279.0 C253.7,280.3 256.7,282.1 260.0,283.5 C263.3,284.9 266.5,285.9 270.0,287.5 C273.5,289.1 277.3,291.1 281.0,293.0 C284.7,294.9 288.5,297.0 292.0,299.0 C295.5,301.0 298.5,303.0 302.0,305.0 C305.5,307.0 309.4,309.0 313.0,311.0 C316.6,313.0 320.6,315.1 323.6,317.0 C326.6,318.9 328.5,320.4 331.0,322.5 C333.5,324.6 337.4,328.2 338.7,329.3" stroke="#3a3c98" stroke-width="2.15"/>
<path d="M54.0,279.3 C56.2,280.0 62.0,281.4 67.1,283.7 C72.1,286.0 79.1,289.6 84.3,293.0 C89.5,296.4 94.3,300.6 98.0,304.0 C101.7,307.4 103.9,310.2 106.6,313.5 C109.3,316.8 111.4,319.9 114.0,323.5 C116.6,327.1 118.8,329.1 122.0,335.0 C125.2,340.9 130.0,352.5 133.0,359.0 C136.0,365.5 138.2,369.2 140.0,374.0 C141.8,378.8 142.7,383.3 144.0,388.0 C145.3,392.7 146.7,397.7 148.0,402.0 C149.3,406.3 150.7,410.7 152.0,414.0 C153.3,417.3 154.5,420.1 156.0,422.0 C157.5,423.9 159.3,425.5 161.0,425.6 C162.7,425.7 164.5,424.4 166.0,422.5 C167.5,420.6 168.7,417.4 170.0,414.0 C171.3,410.6 172.7,406.0 174.0,402.0 C175.3,398.0 176.7,393.5 178.0,390.0 C179.3,386.5 180.4,383.9 182.0,381.0 C183.6,378.1 185.0,377.4 187.6,372.7 C190.2,368.0 194.4,358.3 197.5,352.8 C200.6,347.3 202.6,343.8 206.3,339.6 C210.1,335.4 215.6,330.5 220.0,327.4 C224.4,324.3 228.9,322.5 232.9,321.0 C236.9,319.5 240.7,319.0 244.0,318.5 C247.3,318.0 248.7,317.9 253.0,318.0 C257.3,318.1 264.7,318.4 270.0,319.1 C275.3,319.8 280.0,320.8 285.0,322.3 C290.0,323.8 295.0,325.6 300.0,327.9 C305.0,330.3 310.3,333.2 315.0,336.1 C319.7,339.1 324.1,342.3 328.0,345.4 C331.9,348.5 336.9,353.1 338.7,354.6" stroke="#9a2c9c" stroke-width="2.15"/>
<path d="M54.0,279.5 C56.2,280.2 62.0,281.7 67.1,284.0 C72.1,286.3 79.1,290.0 84.3,293.4 C89.5,296.8 94.3,301.0 98.0,304.5 C101.7,308.0 103.9,311.0 106.6,314.3 C109.3,317.6 111.4,320.9 114.0,324.5 C116.6,328.1 118.8,330.1 122.0,336.0 C125.2,341.9 130.1,353.5 133.0,359.8 C135.9,366.1 137.6,369.2 139.6,373.6 C141.6,378.0 143.2,382.2 145.0,386.0 C146.8,389.8 148.8,393.6 150.6,396.5 C152.4,399.4 154.2,401.8 156.0,403.5 C157.8,405.2 159.8,406.4 161.6,406.5 C163.4,406.6 165.3,405.4 167.0,404.0 C168.7,402.6 170.3,400.5 172.0,398.0 C173.7,395.5 175.3,391.9 177.0,389.0 C178.7,386.1 180.2,383.2 182.0,380.5 C183.8,377.8 184.7,376.8 187.6,372.7 C190.5,368.6 195.8,360.2 199.7,356.1 C203.5,352.1 207.3,350.8 210.7,348.4 C214.1,346.0 216.3,343.9 220.0,341.8 C223.7,339.7 228.7,337.0 232.9,335.5 C237.1,334.0 241.1,333.6 245.0,333.0 C248.9,332.4 252.4,332.1 256.6,332.1 C260.8,332.1 265.3,332.3 270.0,333.0 C274.7,333.6 280.0,334.7 285.0,336.0 C290.0,337.4 295.0,339.2 300.0,341.3 C305.0,343.4 310.3,346.1 315.0,348.7 C319.7,351.4 324.1,354.3 328.0,357.0 C331.9,359.7 336.9,363.7 338.7,365.0" stroke="#1fb3bd" stroke-width="2.15"/>
<path d="M54.0,279.7 C56.2,280.5 62.0,282.0 67.1,284.3 C72.1,286.6 79.1,290.3 84.3,293.7 C89.5,297.1 94.3,301.3 98.0,304.9 C101.7,308.5 103.9,311.7 106.6,315.1 C109.3,318.5 111.4,321.8 114.0,325.5 C116.6,329.2 118.8,331.5 122.0,337.3 C125.2,343.1 130.1,354.3 133.0,360.4 C135.9,366.4 137.4,369.6 139.6,373.6 C141.8,377.7 143.6,381.4 146.2,384.7 C148.8,388.0 152.5,391.6 155.0,393.5 C157.5,395.4 159.2,395.6 161.4,395.8 C163.6,396.0 165.3,396.1 168.0,394.5 C170.7,392.9 174.3,389.3 177.6,385.9 C180.9,382.4 183.9,377.7 187.6,373.8 C191.3,369.9 195.8,365.8 199.7,362.7 C203.5,359.6 207.3,357.1 210.7,355.0 C214.1,352.9 216.8,351.5 220.0,350.2 C223.2,348.9 226.0,348.2 230.0,347.0 C234.0,345.8 239.6,343.9 244.0,343.0 C248.4,342.1 252.3,341.6 256.6,341.6 C260.9,341.6 265.3,342.3 270.0,343.2 C274.7,344.1 280.0,345.6 285.0,347.2 C290.0,348.8 295.0,350.7 300.0,352.9 C305.0,355.0 310.3,357.6 315.0,360.1 C319.7,362.5 324.1,365.0 328.0,367.4 C331.9,369.7 336.9,372.9 338.7,374.1" stroke="#e3203f" stroke-width="2.15"/>
</g>
<rect x="196.5" y="389.8" width="97.2" height="97.2" fill="url(#bgG)"/>
<g>
<ellipse cx="208.9" cy="438.5" rx="11.0" ry="8.5" fill="url(#glow)"/>
<ellipse cx="217.3" cy="438.5" rx="9.0" ry="8.5" fill="url(#glow)"/>
<ellipse cx="281.3" cy="438.5" rx="11.0" ry="8.5" fill="url(#glow)"/>
<ellipse cx="272.9" cy="438.5" rx="9.0" ry="8.5" fill="url(#glow)"/>
<rect x="208.4" y="400.4" width="73.4" height="2.2" fill="#40b8f0" opacity="0.85"/>
<rect x="208.4" y="474.5" width="73.4" height="2.2" fill="#40b8f0" opacity="0.85"/>
<rect x="216.8" y="410.2" width="56.6" height="2" fill="#3aa8e8" opacity="0.6"/>
<rect x="216.8" y="464.8" width="56.6" height="2" fill="#3aa8e8" opacity="0.6"/>
</g>
<defs><clipPath id="cf"><rect x="209.4" y="402.8" width="71.4" height="71.4"/></clipPath></defs>
<path d="M209.4,402.8 H280.8 V474.2 H209.4 Z M216.8,410.2 V466.8 H273.4 V410.2 Z" fill="#f7ee12" fill-rule="evenodd"/>
<g clip-path="url(#cf)" stroke="#f7ee12" stroke-width="7.2"><line x1="211.4" y1="404.8" x2="278.8" y2="472.2"/><line x1="278.8" y1="404.8" x2="211.4" y2="472.2"/></g>
<rect x="241.1" y="409.7" width="8" height="4" fill="#f7ee12"/>
<rect x="241.1" y="463.3" width="8" height="4" fill="#f7ee12"/>
<rect x="243.8" y="402.8" width="2.6" height="10.9" fill="#2a48b2"/>
<rect x="243.8" y="463.3" width="2.6" height="10.9" fill="#2a48b2"/>
<rect x="208.9" y="437.2" width="8.9" height="2.6" fill="#e41c1c"/>
<rect x="272.4" y="437.2" width="8.9" height="2.6" fill="#e41c1c"/>
<g stroke="#fff" stroke-width="1.4" fill="none"><path d="M201.3,483.8 V466.5"/><path d="M201.3,483.8 H218.5"/></g>
<g fill="#fff"><path d="M201.3,463.8 L198.8,469 L203.8,469 Z"/><path d="M221.2,483.8 L216,481.3 L216,486.3 Z"/></g>
<text x="183.2" y="476.2" font-size="15.5" font-style="italic">E</text>
<text x="221.2" y="495.9" font-size="15.3" font-style="italic">H</text>
<rect x="297" y="400.3" width="5" height="87.1" fill="url(#jet)"/>
<text x="303.6" y="416.8" class="ser" font-size="14.2">23.4</text>
<text x="304.6" y="487" class="ser" font-size="14.2">0</text>
<g stroke="#111" fill="none">
<path d="M54.0,271.2 H338.7 V499.5 H54.0 Z" stroke-width="1.6"/>
<line x1="48.6" y1="499.50" x2="54.0" y2="499.50" stroke-width="1.4"/>
<line x1="51.2" y1="476.67" x2="54.0" y2="476.67" stroke-width="1.4"/>
<line x1="48.6" y1="453.84" x2="54.0" y2="453.84" stroke-width="1.4"/>
<line x1="51.2" y1="431.01" x2="54.0" y2="431.01" stroke-width="1.4"/>
<line x1="48.6" y1="408.18" x2="54.0" y2="408.18" stroke-width="1.4"/>
<line x1="51.2" y1="385.35" x2="54.0" y2="385.35" stroke-width="1.4"/>
<line x1="48.6" y1="362.52" x2="54.0" y2="362.52" stroke-width="1.4"/>
<line x1="51.2" y1="339.69" x2="54.0" y2="339.69" stroke-width="1.4"/>
<line x1="48.6" y1="316.86" x2="54.0" y2="316.86" stroke-width="1.4"/>
<line x1="51.2" y1="294.03" x2="54.0" y2="294.03" stroke-width="1.4"/>
<line x1="48.6" y1="271.20" x2="54.0" y2="271.20" stroke-width="1.4"/>
<line x1="53.70" y1="499.5" x2="53.70" y2="502.1" stroke-width="1.4"/>
<line x1="75.62" y1="499.5" x2="75.62" y2="504.3" stroke-width="1.4"/>
<line x1="97.54" y1="499.5" x2="97.54" y2="502.1" stroke-width="1.4"/>
<line x1="119.46" y1="499.5" x2="119.46" y2="504.3" stroke-width="1.4"/>
<line x1="141.38" y1="499.5" x2="141.38" y2="502.1" stroke-width="1.4"/>
<line x1="163.30" y1="499.5" x2="163.30" y2="504.3" stroke-width="1.4"/>
<line x1="185.22" y1="499.5" x2="185.22" y2="502.1" stroke-width="1.4"/>
<line x1="207.14" y1="499.5" x2="207.14" y2="504.3" stroke-width="1.4"/>
<line x1="229.06" y1="499.5" x2="229.06" y2="502.1" stroke-width="1.4"/>
<line x1="250.98" y1="499.5" x2="250.98" y2="504.3" stroke-width="1.4"/>
<line x1="272.90" y1="499.5" x2="272.90" y2="502.1" stroke-width="1.4"/>
<line x1="294.82" y1="499.5" x2="294.82" y2="504.3" stroke-width="1.4"/>
<line x1="316.74" y1="499.5" x2="316.74" y2="502.1" stroke-width="1.4"/>
<line x1="338.66" y1="499.5" x2="338.66" y2="504.3" stroke-width="1.4"/>
</g>
<g font-size="12.2" text-anchor="end">
<text x="44.6" y="504.7">0</text>
<text x="44.6" y="459.0">0.2</text>
<text x="44.6" y="413.4">0.4</text>
<text x="44.6" y="367.7">0.6</text>
<text x="44.6" y="322.1">0.8</text>
<text x="44.6" y="276.4">1.0</text>
</g>
<g font-size="11.6" text-anchor="middle">
<text x="75.6" y="519.5">0.4</text>
<text x="119.5" y="519.5">0.6</text>
<text x="163.3" y="519.5">0.8</text>
<text x="207.1" y="519.5">1.0</text>
<text x="251.0" y="519.5">1.2</text>
<text x="294.8" y="519.5">1.4</text>
<text x="338.7" y="519.5">1.6</text>
</g>
<text transform="translate(15.4,387.3) rotate(-90)" font-size="16" text-anchor="middle">Transmission</text>
<text x="197.5" y="539.6" font-size="16" text-anchor="middle">Frequency (THz)</text>
<text x="61.2" y="312.2" font-size="17.6">(b)</text>
<text x="62.2" y="408.2" font-size="11.2" class="ser" style="stroke:#1a1a1a;stroke-width:0.35px">σ (Ω cm)<tspan font-size="8.6" style="stroke:none" dy="-5.6" dx="1">−1</tspan></text>
<g stroke-width="1.8" stroke-linecap="round">
<line x1="63.2" y1="424.2" x2="88.8" y2="424.2" stroke="#3a3c98"/>
<line x1="63.2" y1="441.1" x2="88.8" y2="441.1" stroke="#9a2c9c"/>
<line x1="63.2" y1="458.0" x2="88.8" y2="458.0" stroke="#1fb3bd"/>
<line x1="63.2" y1="475.2" x2="88.8" y2="475.2" stroke="#e3203f"/>
</g>
<g font-size="11.4">
<text x="92.3" y="428.9">1e-8</text>
<text x="92.3" y="445.8">10</text>
<text x="92.3" y="462.7">15</text>
<text x="92.3" y="479.9">20</text>
</g>
</svg></body></html>
